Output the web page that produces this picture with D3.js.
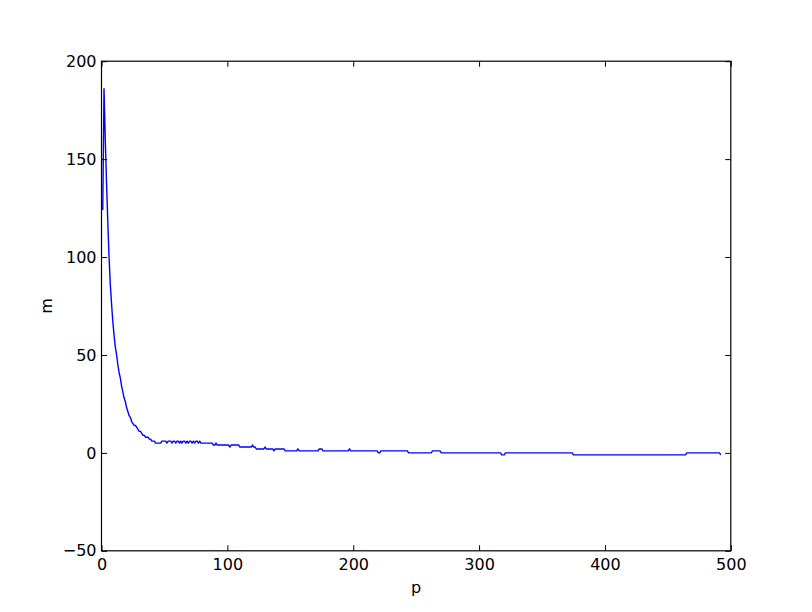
<!DOCTYPE html>
<html>
<head>
<meta charset="utf-8">
<script src="https://cdn.jsdelivr.net/npm/d3@7"></script>
<style>
  body { margin: 0; background: #fff; }
  svg { display: block; font-family: "DejaVu Sans", sans-serif; }
</style>
</head>
<body>
<svg id="chart"></svg>
<script>
// p on x, m on y (flat stretches only keep their end points)
const pValues = [
  1, 2, 3, 4, 5, 6, 7, 8, 9, 10, 11, 12, 13, 14, 15, 16, 17, 18, 19, 20,
  21, 22, 23, 24, 25, 26, 27, 28, 29, 30, 31, 32, 33, 34, 35, 36, 37, 38, 39, 40,
  41, 42, 43, 47, 48, 51, 52, 53, 55, 56, 57, 58, 59, 60, 61, 62, 63, 64, 65, 66,
  67, 68, 69, 70, 71, 72, 73, 74, 75, 76, 77, 78, 79, 88, 89, 90, 91, 92, 101, 102,
  103, 109, 110, 119, 120, 121, 122, 123, 129, 130, 131, 136, 137, 138, 145, 146, 155, 156, 157, 172,
  173, 175, 176, 196, 197, 198, 219, 220, 221, 222, 243, 244, 262, 263, 269, 270, 317, 318, 320, 321,
  374, 375, 464, 465, 491, 492
];
const mValues = [
  124, 186, 160, 138, 118, 100, 86, 76, 67, 60, 54, 50, 45, 41, 38, 34, 31, 28, 26, 23,
  21, 19, 18, 16, 15, 14, 14, 13, 12, 11, 11, 10, 9, 9, 8, 8, 8, 7, 7, 6,
  6, 6, 5, 5, 6, 6, 5, 6, 6, 5, 6, 6, 5, 6, 6, 5, 6, 5, 6, 6,
  5, 6, 5, 6, 6, 5, 6, 5, 6, 6, 5, 6, 5, 5, 4, 4, 5, 4, 4, 3,
  4, 4, 3, 3, 4, 3, 3, 2, 2, 3, 2, 2, 1, 2, 2, 1, 1, 2, 1, 1,
  2, 2, 1, 1, 2, 1, 1, 0, 0, 1, 1, 0, 0, 1, 1, 0, 0, -1, -1, 0,
  0, -1, -1, 0, 0, -1
];
const xTicks = [0, 100, 200, 300, 400, 500];
const yTicks = [-50, 0, 50, 100, 150, 200];

const width = 812;
const height = 612;
const padLeft = 101.5, padRight = 730.8, padTop = 61.2, padBottom = 550.8;
const tickLen = 5.6;

const svg = d3.select('#chart')
    .attr('width', width)
    .attr('height', height);

let xScale = d3.scaleLinear()
    .domain([0, 500])
    .range([padLeft, padRight]);

let yScale = d3.scaleLinear()
    .domain([-50, 200])
    .range([padBottom, padTop]);

const data = pValues.map((p, i) => ({p: p, m: mValues[i]}));

// the curve
svg.append('path')
    .datum(data)
    .attr('fill', 'none')
    .attr('stroke', '#0000ff')
    .attr('stroke-width', 1.4)
    .attr('stroke-linejoin', 'round')
    .attr('d', d3.line().x(d => xScale(d.p)).y(d => yScale(d.m)));

// ticks point inwards on all four sides, labels only bottom / left
let xAxis = d3.axisBottom(xScale).tickValues(xTicks)
    .tickSize(-tickLen).tickSizeOuter(0).tickPadding(8);
let xAxisTop = d3.axisTop(xScale).tickValues(xTicks)
    .tickSize(-tickLen).tickSizeOuter(0).tickFormat('');
let yAxis = d3.axisLeft(yScale).tickValues(yTicks)
    .tickSize(-tickLen).tickSizeOuter(0).tickPadding(5)
    .tickFormat(d => d < 0 ? '\u2212' + Math.abs(d) : d);
let yAxisRight = d3.axisRight(yScale).tickValues(yTicks)
    .tickSize(-tickLen).tickSizeOuter(0).tickFormat('');

const axes = [
  [xAxis, `translate(0, ${padBottom})`],
  [xAxisTop, `translate(0, ${padTop})`],
  [yAxis, `translate(${padLeft}, 0)`],
  [yAxisRight, `translate(${padRight}, 0)`]
];
axes.forEach(([ax, tr]) => {
  const g = svg.append('g').attr('transform', tr).call(ax);
  g.select('.domain').remove();
  g.selectAll('line').attr('stroke', '#000').attr('stroke-width', 1);
  g.selectAll('text')
      .attr('fill', '#000')
      .style('font-family', '"DejaVu Sans", sans-serif')
      .style('font-size', '16px');
});

// frame
svg.append('rect')
    .attr('x', padLeft)
    .attr('y', padTop)
    .attr('width', padRight - padLeft)
    .attr('height', padBottom - padTop)
    .attr('fill', 'none')
    .attr('stroke', '#000')
    .attr('stroke-width', 1.2);

svg.append('text')
    .attr('x', (padLeft + padRight) / 2)
    .attr('y', 593)
    .style('text-anchor', 'middle')
    .style('font-size', '16px')
    .text('p');

svg.append('text')
    .attr('transform', 'rotate(-90)')
    .attr('x', -(padTop + padBottom) / 2)
    .attr('y', 52)
    .style('text-anchor', 'middle')
    .style('font-size', '16px')
    .text('m');
</script>
</body>
</html>
